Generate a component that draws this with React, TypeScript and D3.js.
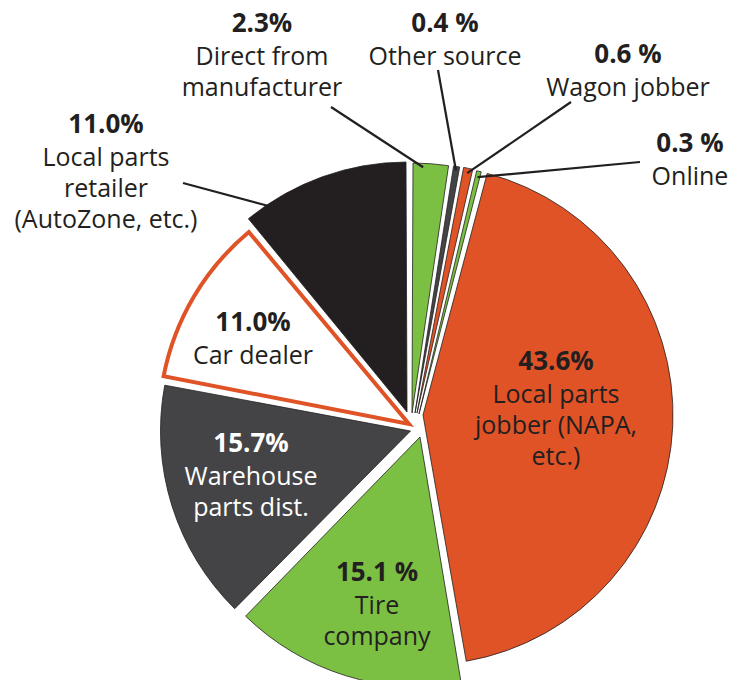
import { useRef, useEffect } from 'react'
import * as d3 from 'd3'

// slices in clockwise order starting at 12 o'clock
const CATEGORIES = [
  'Direct from manufacturer',
  'Other source',
  'Wagon jobber',
  'Online',
  'Local parts jobber (NAPA, etc.)',
  'Tire company',
  'Warehouse parts dist.',
  'Car dealer',
  'Local parts retailer (AutoZone, etc.)',
]
const SHARES = [2.3, 0.4, 0.6, 0.3, 43.6, 15.1, 15.7, 11.0, 11.0]
const PCT_LABELS = ['2.3%', '0.4 %', '0.6 %', '0.3 %', '43.6%', '15.1 %', '15.7%', '11.0%', '11.0%']
const NAME_LINES = [
  ['Direct from', 'manufacturer'],
  ['Other source'],
  ['Wagon jobber'],
  ['Online'],
  ['Local parts', 'jobber (NAPA,', 'etc.)'],
  ['Tire', 'company'],
  ['Warehouse', 'parts dist.'],
  ['Car dealer'],
  ['Local parts', 'retailer', '(AutoZone, etc.)'],
]

const ORANGE = '#e05327'
const GREEN = '#7bc043'
const BLACK = '#231f20'
const GRAY = '#444446'
const FILLS = [GREEN, GRAY, ORANGE, GREEN, ORANGE, GREEN, GRAY, '#ffffff', BLACK]
const TEXT_COLORS = [BLACK, BLACK, BLACK, BLACK, BLACK, BLACK, '#ffffff', BLACK, BLACK]

// per-slice explode offsets (px)
const SHIFT: [number, number][] = [
  [-2, -5], [1, -5], [3, -5], [5, -4], [9, -3], [6, 19], [-3.5, 13], [-5, 6], [-7, -6],
]
// label anchor (center x, first baseline y) and leader target (t along slice angle, radius)
const LABEL_POS: [number, number][] = [
  [262, 32], [445, 32], [628, 63], [690, 152], [556, 370], [377, 581], [251, 452], [253, 331], [106, 133],
]
const LEADERS: ({ from: [number, number]; t: number; r: number } | null)[] = [
  { from: [331, 107], t: 0.3, r: 246 },
  { from: [438, 70], t: 0.5, r: 246 },
  { from: [571, 102], t: 0.5, r: 245 },
  { from: [640, 162], t: 0.5, r: 244 },
  null, null, null, null,
  { from: [183, 183], t: 0.14, r: 249 },
]

const FONT = "'Open Sans', 'Noto Sans', sans-serif"

export default function App() {
  const svgRef = useRef<SVGSVGElement>(null)

  useEffect(() => {
    const svg = svgRef.current
    if (!svg) return
    const W = 747
    const H = 680
    const cx = 414
    const cy = 418
    const R = 250

    const sel = d3.select(svg)
    sel.selectAll('*').remove()
    sel.attr('width', W).attr('height', H)

    const pie = d3.pie<number>().sort(null).value((d) => d).padAngle(0.008)
    const arcs = pie(SHARES)
    const arc = d3.arc<d3.PieArcDatum<number>>().innerRadius(0).outerRadius(R).padRadius(R)

    const g = sel.append('g').attr('transform', `translate(${cx},${cy})`)

    arcs.forEach((a, i) => {
      const [dx, dy] = SHIFT[i]
      const isCar = i === 7
      g.append('path')
        .attr('transform', `translate(${dx},${dy})`)
        .attr('d', arc(a) as string)
        .attr('fill', FILLS[i])
        .attr('stroke', isCar ? ORANGE : BLACK)
        .attr('stroke-width', isCar ? 4 : 0.8)
        .attr('stroke-linejoin', 'miter')
    })

    // leader lines
    arcs.forEach((a, i) => {
      const L = LEADERS[i]
      if (!L) return
      const ang = a.startAngle + L.t * (a.endAngle - a.startAngle)
      const [dx, dy] = SHIFT[i]
      const x2 = cx + dx + L.r * Math.sin(ang)
      const y2 = cy + dy - L.r * Math.cos(ang)
      sel.append('line')
        .attr('x1', L.from[0]).attr('y1', L.from[1])
        .attr('x2', x2).attr('y2', y2)
        .attr('stroke', BLACK).attr('stroke-width', 2.2)
    })

    // labels
    arcs.forEach((a, i) => {
      const [x, y] = LABEL_POS[i]
      const t = sel.append('text')
        .attr('text-anchor', 'middle')
        .attr('font-family', FONT)
        .attr('fill', TEXT_COLORS[i])
      t.append('tspan')
        .attr('x', x).attr('y', y)
        .attr('font-weight', 700).attr('font-size', '26px')
        .text(PCT_LABELS[i])
      NAME_LINES[i].forEach((line, k) => {
        t.append('tspan')
          .attr('x', x).attr('y', y + 33 + k * 31)
          .attr('font-size', '25px')
          .text(line)
      })
    })
  }, [])

  return (
    <div style={{ position: 'absolute', left: 0, top: 0, width: 747, height: 680, background: '#fff' }}>
      <svg ref={svgRef} width={747} height={680} style={{ display: 'block' }} aria-label={CATEGORIES.join(', ')} />
    </div>
  )
}
